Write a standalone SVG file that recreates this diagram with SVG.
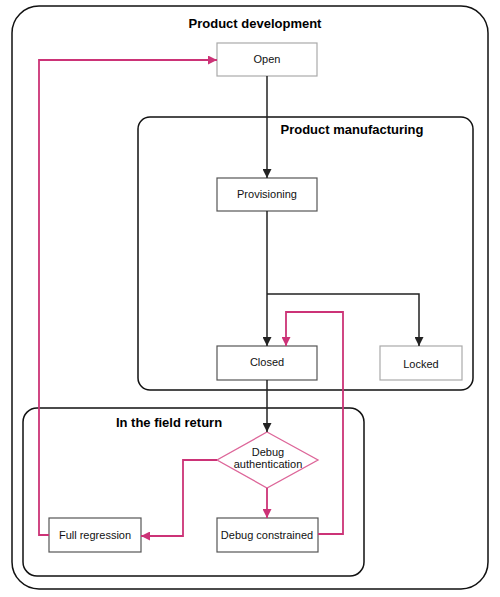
<svg xmlns="http://www.w3.org/2000/svg" width="500" height="597" viewBox="0 0 500 597">
<style>
.c{fill:none;stroke:#111;stroke-width:1.5}
.t{font-family:"Liberation Sans",Arial,sans-serif;font-size:13px;font-weight:bold;fill:#000;text-anchor:middle}
.n{fill:#fff;stroke-width:1.2}
.l{font-family:"Liberation Sans",Arial,sans-serif;font-size:11px;fill:#111;text-anchor:middle}
.k{fill:none;stroke:#222;stroke-width:1.5}
.p{fill:none;stroke:#cc3377;stroke-width:1.8}
</style>
<defs>
<marker id="ab" viewBox="0 0 10 10" refX="10" refY="5" markerWidth="10" markerHeight="9" markerUnits="userSpaceOnUse" orient="auto"><path d="M0,0L10,5L0,10z" fill="#222"/></marker>
<marker id="ap" viewBox="0 0 10 10" refX="10" refY="5" markerWidth="9" markerHeight="9" markerUnits="userSpaceOnUse" orient="auto"><path d="M0,0L10,5L0,10z" fill="#cc3377"/></marker>
</defs>
<rect width="500" height="597" fill="#fff"/>
<g id="dev"><rect class="c" x="12" y="6" width="476" height="583" rx="27"/><text class="t" x="255" y="28">Product development</text></g>
<g id="mfg"><rect class="c" x="138" y="117" width="335" height="273" rx="12"/><text class="t" x="352" y="134">Product manufacturing</text></g>
<g id="field"><rect class="c" x="23" y="408" width="341" height="168" rx="14"/><text class="t" x="169" y="427">In the field return</text></g>
<g id="open"><rect class="n" x="217" y="43" width="100" height="33" stroke="#aaa"/><text class="l" x="267" y="63">Open</text></g>
<g id="prov"><rect class="n" x="217" y="178" width="100" height="33" stroke="#555"/><text class="l" x="267" y="198">Provisioning</text></g>
<g id="closed"><rect class="n" x="217" y="346" width="100" height="34" stroke="#555"/><text class="l" x="267" y="366">Closed</text></g>
<g id="locked"><rect class="n" x="380" y="346" width="82" height="34" stroke="#aaa"/><text class="l" x="421" y="368">Locked</text></g>
<g id="auth"><path d="M267,432L318,460L267,488L217,460z" fill="#fff" stroke="#dd6699" stroke-width="1.3"/><text class="l" x="268" y="456">Debug</text><text class="l" x="268" y="468">authentication</text></g>
<g id="dc"><rect class="n" x="217" y="518" width="101" height="34" stroke="#555"/><text class="l" x="267" y="539">Debug constrained</text></g>
<g id="fr"><rect class="n" x="49" y="518" width="92" height="34" stroke="#555"/><text class="l" x="95" y="539">Full regression</text></g>
<g id="connectors">
<path class="k" d="M267,76V178" marker-end="url(#ab)"/>
<path class="k" d="M267,211V346" marker-end="url(#ab)"/>
<path class="k" d="M267,294H419V346" marker-end="url(#ab)"/>
<path class="k" d="M267,380V432" marker-end="url(#ab)"/>
<path class="p" d="M267,488V518" marker-end="url(#ap)"/>
<path class="p" d="M217,460H183V536H141" marker-end="url(#ap)"/>
<path class="p" d="M49,535H39V60H217" marker-end="url(#ap)"/>
<path class="p" d="M318,534H343V312H286V346" marker-end="url(#ap)"/>
</g>
</svg>
